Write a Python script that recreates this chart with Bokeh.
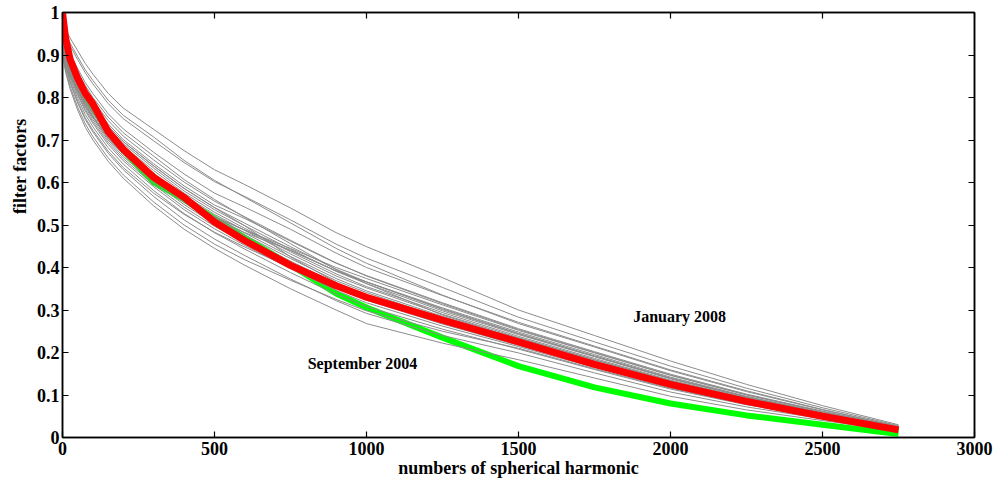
from bokeh.plotting import figure
from bokeh.models import LinearAxis, FixedTicker, Label, Range1d, Title
from bokeh.embed import file_html
from bokeh.resources import INLINE

# ---------------- data ----------------
x_pts = [0, 10, 25, 50, 75, 100, 150, 200, 300, 400, 500, 600, 750, 900, 1000,
         1250, 1500, 1750, 2000, 2250, 2500, 2750]

green_sep2004 = [0.93, 0.89, 0.86, 0.83, 0.80, 0.775, 0.72, 0.675, 0.60, 0.56, 0.515, 0.47, 0.406, 0.339, 0.306,
                 0.235, 0.168, 0.118, 0.08, 0.052, 0.03, 0.008]
red_jan2008 = [1.00, 0.94, 0.89, 0.845, 0.81, 0.785, 0.72, 0.678, 0.612, 0.565, 0.507, 0.463, 0.405, 0.357, 0.33,
               0.276, 0.225, 0.172, 0.125, 0.085, 0.05, 0.018]

gray_months = [
    [.97, .96, .94, .91, .88, .855, .81, .775, .725, .675, .63, .595, .54, .482, .449, .376, .30, .24, .18, .125, .075, .03],
    [.96, .945, .922, .889, .858, .832, .786, .75, .698, .647, .602, .567, .512, .455, .422, .353, .283, .225, .168, .116, .07, .028],
    [.949, .93, .904, .868, .835, .809, .762, .726, .671, .62, .575, .542, .49, .434, .40, .334, .271, .215, .159, .11, .066, .026],
    [.942, .92, .892, .854, .82, .793, .746, .709, .653, .601, .556, .519, .464, .411, .38, .315, .254, .20, .147, .101, .061, .024],
    [.936, .912, .882, .843, .808, .781, .733, .696, .639, .586, .541, .504, .449, .396, .366, .303, .245, .192, .14, .096, .058, .023],
    [.932, .906, .875, .834, .799, .771, .724, .686, .628, .575, .53, .492, .437, .385, .355, .294, .238, .186, .135, .093, .056, .022],
    [.928, .90, .868, .826, .79, .762, .714, .676, .617, .564, .519, .481, .426, .374, .345, .285, .231, .18, .13, .089, .054, .021],
    [.924, .894, .861, .818, .781, .753, .704, .666, .606, .553, .508, .47, .415, .363, .335, .276, .224, .174, .125, .085, .052, .02],
    [.92, .888, .854, .809, .772, .743, .695, .656, .595, .542, .497, .458, .403, .352, .323, .267, .217, .168, .12, .082, .05, .019],
    [.914, .88, .844, .798, .76, .731, .682, .643, .581, .527, .482, .443, .388, .337, .308, .255, .208, .16, .114, .077, .047, .018],
    [.908, .872, .834, .787, .748, .719, .669, .63, .567, .512, .467, .428, .373, .322, .292, .24, .199, .152, .107, .072, .044, .017],
    [.90, .86, .82, .77, .73, .70, .65, .61, .545, .49, .445, .405, .35, .30, .268, .222, .183, .14, .097, .065, .04, .015],
    [.928, .90, .868, .826, .79, .762, .714, .676, .617, .564, .519, .488, .44, .392, .366, .301, .244, .191, .139, .095, .057, .023],
    [.936, .912, .882, .843, .808, .781, .733, .696, .639, .586, .541, .498, .425, .365, .333, .27, .218, .168, .12, .082, .05, .019],
    [.924, .894, .861, .818, .781, .753, .704, .666, .606, .56, .52, .488, .445, .40, .374, .312, .252, .199, .146, .10, .06, .024],
    [.934, .91, .879, .84, .804, .777, .729, .691, .634, .58, .536, .498, .443, .391, .362, .298, .242, .19, .138, .095, .057, .023],
    [.93, .903, .871, .83, .795, .767, .719, .681, .622, .57, .525, .487, .432, .38, .352, .29, .235, .183, .133, .091, .055, .022],
    [.926, .897, .864, .822, .786, .757, .709, .671, .612, .559, .514, .476, .421, .369, .341, .281, .228, .177, .128, .087, .053, .021],
    [.922, .891, .857, .813, .777, .748, .70, .661, .601, .548, .503, .464, .409, .358, .329, .272, .22, .171, .122, .083, .051, .02],
    [.918, .885, .85, .805, .768, .739, .69, .651, .59, .536, .491, .452, .397, .346, .317, .262, .214, .165, .118, .08, .049, .019],
    [.938, .915, .886, .847, .813, .785, .738, .701, .644, .592, .547, .515, .462, .41, .381, .317, .256, .202, .149, .102, .062, .025],
    [.963, .95, .928, .896, .865, .84, .794, .758, .707, .652, .605, .565, .505, .445, .41, .335, .268, .213, .157, .108, .065, .026],
    [.91, .875, .838, .791, .752, .723, .674, .635, .575, .525, .483, .448, .40, .356, .33, .28, .234, .183, .133, .091, .055, .022],
    [.945, .925, .898, .861, .828, .80, .754, .717, .662, .607, .56, .518, .456, .395, .362, .288, .232, .18, .13, .089, .054, .021],
    [.903, .865, .826, .777, .738, .708, .658, .618, .554, .50, .455, .418, .37, .325, .298, .25, .21, .162, .116, .078, .048, .019],
    [.925, .895, .862, .819, .783, .755, .706, .668, .61, .558, .515, .482, .44, .392, .366, .305, .248, .195, .142, .097, .058, .023],
]

x_ticks = [0, 500, 1000, 1500, 2000, 2500, 3000]
y_ticks = [0, 0.1, 0.2, 0.3, 0.4, 0.5, 0.6, 0.7, 0.8, 0.9, 1]

x_title = "numbers of spherical harmonic"
y_title = "filter factors"
label_jan = "January 2008"
label_sep = "September 2004"

# ---------------- figure ----------------
FONT = "Liberation Serif"

p = figure(width=998, height=486, output_backend="svg", toolbar_location=None,
           x_range=Range1d(0, 3000), y_range=Range1d(0, 1),
           min_border_left=62, min_border_right=24, min_border_top=12, min_border_bottom=49)
p.background_fill_color = "white"
p.border_fill_color = "white"
p.grid.visible = False
p.outline_line_color = "black"
p.outline_line_width = 1.5

# green (September 2004), gray months, red (January 2008)
p.line(x_pts, green_sep2004, line_color="#00ff00", line_width=6)
for g in gray_months:
    p.line(x_pts, g, line_color="#8c8c8c", line_width=1.0)
p.line(x_pts, red_jan2008, line_color="#ff0000", line_width=7)

xa = p.xaxis[0]
xa.ticker = FixedTicker(ticks=x_ticks)
ya = p.yaxis[0]
ya.ticker = FixedTicker(ticks=y_ticks)
ya.major_label_overrides = {0: "0", 1: "1"}
for ax in (xa, ya):
    ax.major_tick_in = 6
    ax.major_tick_out = 0
    ax.minor_tick_line_color = None
    ax.axis_line_width = 1.5
    ax.axis_line_color = "black"
    ax.major_tick_line_color = "black"
    ax.major_tick_line_width = 1.2
    ax.major_label_text_font = FONT
    ax.major_label_text_font_style = "bold"
    ax.major_label_text_font_size = "18px"
    ax.major_label_text_color = "black"
xa.major_label_standoff = 4
ya.major_label_standoff = 3
xa.axis_label = x_title
xa.axis_label_text_font = FONT
xa.axis_label_text_font_style = "bold"
xa.axis_label_text_font_size = "18px"
xa.axis_label_text_color = "black"
xa.axis_label_standoff = 0

top = LinearAxis(ticker=FixedTicker(ticks=x_ticks))
right = LinearAxis(ticker=FixedTicker(ticks=y_ticks))
for ax in (top, right):
    ax.major_tick_in = 6
    ax.major_tick_out = 0
    ax.minor_tick_line_color = None
    ax.axis_line_width = 1.5
    ax.axis_line_color = "black"
    ax.major_tick_line_color = "black"
    ax.major_tick_line_width = 1.2
    ax.major_label_text_font_size = "0px"
    ax.major_label_standoff = 0
p.add_layout(top, "above")
p.add_layout(right, "right")

# y-axis title, placed above centre as in the original
ytitle = Title(text=y_title, align="right", offset=106, standoff=8,
               text_font=FONT, text_font_style="bold", text_font_size="18px", text_color="black")
p.add_layout(ytitle, "left")

p.add_layout(Label(x=2030, y=0.285, text=label_jan, text_align="center", text_baseline="middle",
                   text_font=FONT, text_font_style="bold", text_font_size="16px", text_color="black"))
p.add_layout(Label(x=987, y=0.174, text=label_sep, text_align="center", text_baseline="middle",
                   text_font=FONT, text_font_style="bold", text_font_size="16px", text_color="black"))

open("out.html", "w").write(file_html(p, INLINE))
